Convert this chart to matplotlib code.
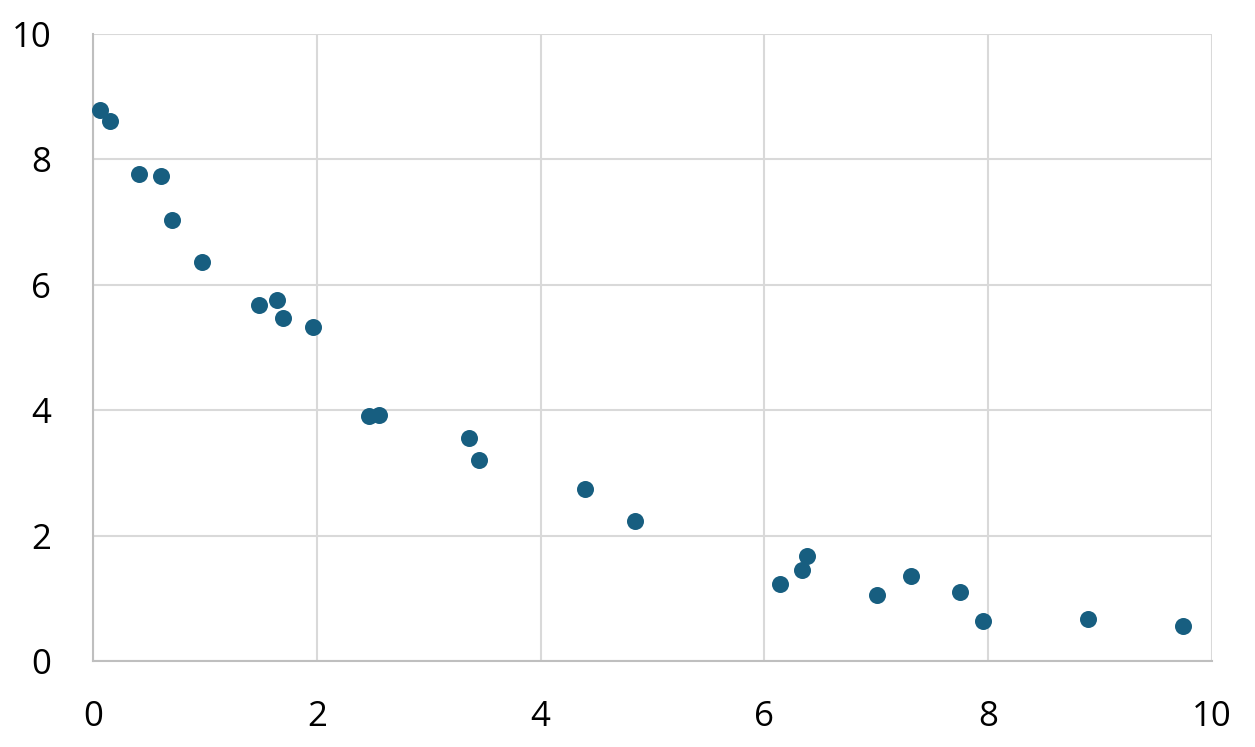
import numpy as np
import matplotlib.pyplot as plt

x = [0.06, 0.15, 0.41, 0.61, 0.71, 0.97, 1.48, 1.64, 1.70, 1.97, 2.47, 2.56,
     3.36, 3.45, 4.40, 4.84, 6.14, 6.34, 6.38, 7.01, 7.31, 7.75, 7.95, 8.89, 9.74]
y = [8.79, 8.61, 7.77, 7.74, 7.03, 6.36, 5.68, 5.76, 5.47, 5.33, 3.91, 3.92,
     3.56, 3.21, 2.74, 2.23, 1.23, 1.45, 1.67, 1.05, 1.36, 1.10, 0.64, 0.67, 0.56]

plt.rcParams['font.family'] = ['Open Sans', 'DejaVu Sans']

fig = plt.figure(figsize=(12.55, 7.47), dpi=100)
ax = fig.add_axes([93/1255, 1 - 661/747, (1212-93)/1255, (661-34)/747])

ax.scatter(x, y, s=150, color='#175E80', zorder=3, clip_on=False, linewidths=0)

ax.set_xlim(0, 10)
ax.set_ylim(0, 10)
ax.set_xticks(np.arange(0, 11, 2))
ax.set_yticks(np.arange(0, 11, 2))
ax.grid(True, color='#D9D9D9', linewidth=1.5)
ax.set_axisbelow(True)
for side in ['top', 'right']:
    ax.spines[side].set_visible(False)
for side in ['left', 'bottom']:
    ax.spines[side].set_color('#BFBFBF')
    ax.spines[side].set_linewidth(1.5)
ax.tick_params(length=0, labelsize=25, pad=28, colors='black')
ax.tick_params(axis='y', pad=30)

fig.savefig('out.png', dpi=100)
